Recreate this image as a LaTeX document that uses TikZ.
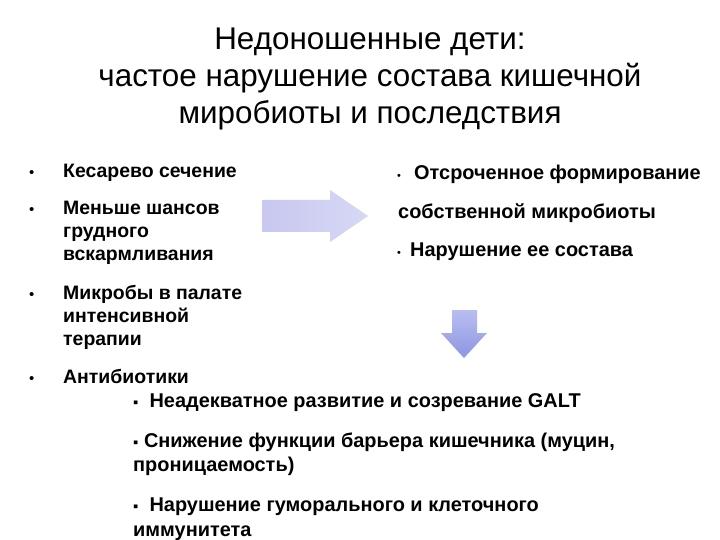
\documentclass[tikz,border=0pt]{standalone}
\usepackage{fontspec}
\setmainfont{Liberation Sans}
\begin{document}
\begin{tikzpicture}[x=1bp,y=-1bp,
 title/.style={font=\fontsize{31.5}{37}\selectfont,align=center},
 txt/.style={anchor=base west,font=\bfseries\fontsize{19.5}{22}\selectfont,inner sep=0pt},
 rt/.style={anchor=base west,font=\bfseries\fontsize{20}{22}\selectfont,inner sep=0pt},
 sm/.style={anchor=base west,font=\fontsize{15}{18}\selectfont,inner sep=0pt}]
\useasboundingbox (0,0) rectangle (720,540);
\fill[white] (0,0) rectangle (720,540);
\node[title] (t) at (370,79) {Недоношенные дети:\\частое нарушение состава кишечной\\миробиоты и последствия};
\node[sm] (b1) at (29,178) {•};
\node[txt] (l1) at (63,178) {Кесарево сечение};
\node[sm] (b2) at (29,215) {•};
\node[txt] (l2) at (63,215) {Меньше шансов};
\node[txt] (l3) at (63,238) {грудного};
\node[txt] (l4) at (63,261) {вскармливания};
\node[sm] (b3) at (29,299) {•};
\node[txt] (l5) at (63,299) {Микробы в палате};
\node[txt] (l6) at (63,322) {интенсивной};
\node[txt] (l7) at (63,345) {терапии};
\node[sm] (b4) at (29,383) {•};
\node[txt] (l8) at (63,383) {Антибиотики};
\node[sm,font=\fontsize{11}{13}\selectfont] (b5) at (397,180) {•};
\node[rt] (r1) at (414,180) {Отсроченное формирование};
\node[rt] (r2) at (398,219) {собственной микробиоты};
\node[sm,font=\fontsize{11}{13}\selectfont] (b6) at (397,257) {•};
\node[rt] (r3) at (410,257) {Нарушение ее состава};
\node[rt] (c1) at (133,407) {{\mdseries\fontsize{15}{13}\selectfont▪}\ \ Неадекватное развитие и созревание GALT};
\node[rt] (c2) at (133,447) {{\mdseries\fontsize{15}{13}\selectfont▪} Снижение функции барьера кишечника (муцин,};
\node[rt] (c3) at (133,471) {проницаемость)};
\node[rt] (c4) at (133,511) {{\mdseries\fontsize{15}{13}\selectfont▪}\ \ Нарушение гуморального и клеточного};
\node[rt] (c5) at (133,536) {иммунитета};
\shade[left color={rgb,255:red,200;green,200;blue,240},right color={rgb,255:red,215;green,215;blue,245}]
 (262,200) -- (330,200) -- (330,190) -- (368,216) -- (330,242) -- (330,232) -- (262,232) -- cycle;
\shade[top color={rgb,255:red,185;green,190;blue,240},bottom color={rgb,255:red,140;green,150;blue,225}]
 (452,310) -- (477,310) -- (477,333) -- (487,333) -- (464,358) -- (441,333) -- (452,333) -- cycle;
\end{tikzpicture}
\end{document}
